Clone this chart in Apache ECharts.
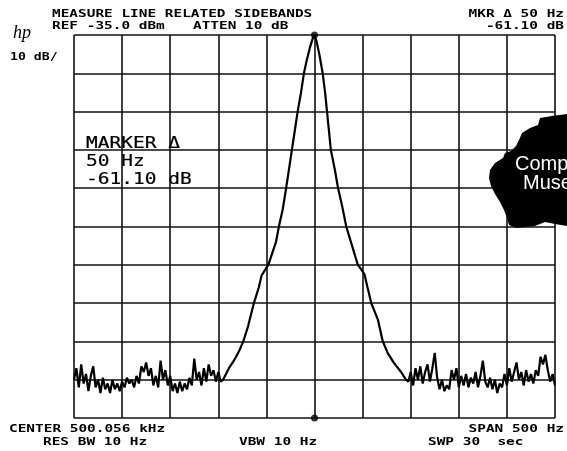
<!DOCTYPE html>
<html>
<head>
<meta charset="utf-8">
<script src="https://cdn.jsdelivr.net/npm/echarts@6/dist/echarts.min.js"></script>
<style>
html,body{margin:0;padding:0;background:#fff;}
#c{width:567px;height:451px;}
</style>
</head>
<body>
<div id="c"></div>
<script>
// Frequency offset from centre (Hz) and level relative to reference (dB)
const leftFloor = [
 [-250,-90],[-247.5,-87],[-245,-92],[-242.5,-86],[-240,-91],[-237.5,-88.5],[-235,-93],[-232.5,-89],
 [-230,-86.5],[-227.5,-92],[-225,-90],[-222.5,-93.5],[-220,-89.5],[-217.5,-92.5],[-215,-91],[-212.5,-93.5],
 [-210,-90],[-207.5,-92.5],[-205,-91],[-202.5,-93],[-200,-90.5],[-197.5,-92],[-195,-89.5],[-192.5,-91],
 [-190,-90],[-187.5,-92],[-185,-89],[-182.5,-91],[-180,-86.5],[-177.5,-88],[-175,-85.5],[-172.5,-89],
 [-170,-87],[-167.5,-91.5],[-165,-89],[-162.5,-92],[-160,-85],[-157.5,-90],[-155,-87.5],[-152.5,-91.5],
 [-150,-89],[-147.5,-93],[-145,-91],[-142.5,-93.5],[-140,-90.5],[-137.5,-93],[-135,-91],[-132.5,-92.5],
 [-130,-89.5],[-127.5,-91.5],[-125,-84.5],[-122.5,-90],[-120,-88],[-117.5,-91.5],[-115,-87],[-112.5,-90.5],
 [-110,-86],[-107.5,-89],[-105,-87.5],[-102.5,-90.5],[-100,-88],[-97.5,-90.5]
];
const carrier = [
 [-95,-90],[-92,-88.5],[-89,-87],[-85,-85.5],[-81.5,-84],[-78,-82.3],[-74,-80],[-69,-76],[-63,-70],
 [-58,-66],[-55,-62.8],[-52,-61.6],[-50,-61.1],[-48,-60],[-44,-57],[-40,-54],[-37,-50],[-33,-45.5],
 [-29.5,-40],[-26.5,-35],[-23.5,-30],[-20.5,-25],[-17.5,-20],[-14,-15],[-11,-10],[-8,-6.5],[-5,-3.5],
 [-2,-1],[0,0],[2,-1.5],[5,-5],[8.5,-10],[11,-15],[13,-20],[15,-25],[17,-30],[21,-35],[24.5,-40],
 [29,-45],[33,-50],[39,-55],[45,-60],[48,-61],[50,-61.1],[52,-62.5],[55,-65.8],[59,-70],[66,-74.4],
 [71,-80],[76,-83],[82.5,-85.6],[90,-88],[95,-90]
];
const rightFloor = [
 [97.5,-90.5],[100,-88],[102.5,-91.5],[105,-87],[107.5,-90],[110,-86.5],[112.5,-91],[115,-88],
 [117.5,-86],[120,-90.5],[122.5,-87],[125,-83],[127.5,-89.5],[130,-92.5],[132.5,-90],[135,-93],
 [137.5,-91.5],[140,-92.5],[142.5,-87.5],[145,-90],[147.5,-87],[150,-92],[152.5,-89],[155,-91.5],
 [157.5,-88.5],[160,-92],[162.5,-89.5],[165,-91],[167.5,-88],[170,-92],[172.5,-89],[175,-85],
 [177.5,-90.5],[180,-92],[182.5,-89.5],[185,-92.5],[187.5,-90],[190,-93.5],[192.5,-91],[195,-92],
 [197.5,-88.5],[200,-91.5],[202.5,-87],[205,-90.5],[207.5,-88],[210,-85.5],[212.5,-90],[215,-88],
 [217.5,-91.5],[220,-87.5],[222.5,-90.5],[225,-88.5],[227.5,-91],[230,-87.5],[232.5,-89],[235,-84],
 [237.5,-86],[240,-83.5],[242.5,-87.5],[245,-90.5],[247.5,-88.5],[250,-91.5]
];
const markers = [[0,0],[0,-100]];
const titleText = 'MEASURE LINE RELATED SIDEBANDS';
const refText = 'REF -35.0 dBm';
const attenText = 'ATTEN 10 dB';
const mkrText1 = 'MKR \u0394 50 Hz';
const mkrText2 = '-61.10 dB';
const scaleText = '10 dB/';
const centerText = 'CENTER 500.056 kHz';
const spanText = 'SPAN 500 Hz';
const rbwText = 'RES BW 10 Hz';
const vbwText = 'VBW 10 Hz';
const swpText = 'SWP 30  sec';
const markerBox = ['MARKER \u0394', '50 Hz', '-61.10 dB'];

const chart = echarts.init(document.getElementById('c'), null, {renderer:'canvas'});
const hdrFont = 'bold 11px "DejaVu Sans Mono"';
const sx = 1.31;
function t(text, x, y, align, font, scale, fill){
  return {type:'text', x:x, y:y, scaleX:scale||sx, z:100,
    style:{text:text, font:font||hdrFont, fill:fill||'#000', textAlign:align||'left', textVerticalAlign:'middle'}};
}
const boxFont = '15px "DejaVu Sans Mono"';
function bt(text, x, y){
  const e = t(text, x, y, 'left', boxFont, 1.3);
  e.style.stroke = '#000'; e.style.lineWidth = 0.2;
  return e;
}
const graphic = [
  t(titleText, 52, 14),
  t(refText, 52, 26.5),
  t(attenText, 193, 26.5),
  t(mkrText1, 564, 14, 'right'),
  t(mkrText2, 564, 26.5, 'right'),
  {type:'text', x:13, y:33, z:100, style:{text:'hp', font:'italic 18px "Liberation Serif"', fill:'#000', textVerticalAlign:'middle'}},
  t(scaleText, 10, 57, 'left', hdrFont, 1.2),
  t(centerText, 9, 429),
  t(spanText, 564, 429, 'right'),
  t(rbwText, 43, 442),
  t(vbwText, 239, 442),
  t(swpText, 428, 442),
  bt(markerBox[0], 86, 144.5),
  bt(markerBox[1], 86, 162),
  bt(markerBox[2], 86, 180),
  {type:'polygon', z:90, shape:{points:[[540,118],[552,116],[567,114],[567,226],[555,224],[545,222],[535,226],[525,227],[516,228],[509,225],[507,218],[504,210],[500,202],[495,194],[491,186],[489,178],[490,170],[495,163],[503,158],[505,153],[511,151],[516,146],[519,140],[522,133],[530,128],[538,125]]},
   style:{fill:'#000'}},
  {type:'text', x:515, y:164, z:95, style:{text:'Computer', font:'20px "Liberation Sans"', fill:'#fff', textVerticalAlign:'middle'}},
  {type:'text', x:523, y:183, z:95, style:{text:'Museum', font:'20px "Liberation Sans"', fill:'#fff', textVerticalAlign:'middle'}}
];

chart.setOption({
  animation:false,
  backgroundColor:'#fff',
  grid:{left:74, right:12, top:35, bottom:33},
  xAxis:{type:'value', min:-250, max:250, interval:50,
    axisLine:{show:false}, axisTick:{show:false}, axisLabel:{show:false},
    splitLine:{show:true, lineStyle:{color:'#111', width:1.6}}},
  yAxis:{type:'value', min:-100, max:0, interval:10,
    axisLine:{show:false}, axisTick:{show:false}, axisLabel:{show:false},
    splitLine:{show:true, lineStyle:{color:'#111', width:1.6}}},
  graphic:graphic,
  series:[
    {type:'line', data:leftFloor.concat(carrier, rightFloor), showSymbol:false, symbol:'none',
     lineStyle:{color:'#000', width:2.2}, z:5},
    {type:'scatter', data:markers, symbolSize:7, itemStyle:{color:'#000'}, z:6}
  ]
});
</script>
</body>
</html>
